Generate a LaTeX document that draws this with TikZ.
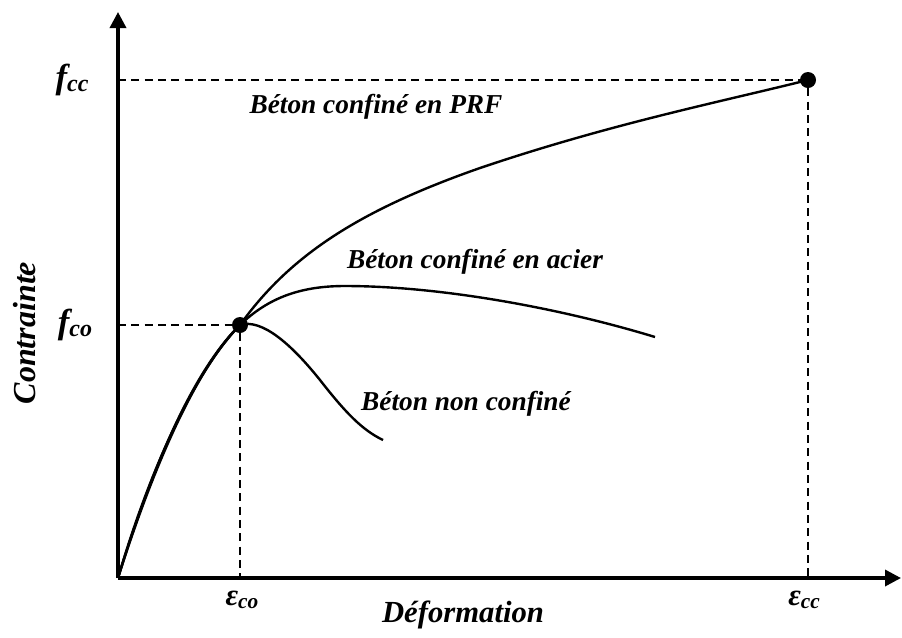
\documentclass[tikz,border=0pt]{standalone}
\usepackage{fontspec}
\setmainfont{Liberation Serif}
\usetikzlibrary{arrows.meta}
\begin{document}
\begin{tikzpicture}[x=0.75pt,y=-0.75pt,
  axis/.style={line width=2.6pt,-{Triangle[length=12pt,width=12pt]}},
  curve/.style={line width=1.8pt},
  guide/.style={line width=1.5pt,dash pattern=on 6pt off 4pt},
  dot/.style={circle,fill=black,inner sep=0pt,minimum size=12pt},
  lbl/.style={font=\fontsize{20.5}{24}\selectfont\bfseries\itshape},
  axlbl/.style={font=\fontsize{23}{27}\selectfont\bfseries\itshape},
  sym/.style={font=\bfseries\itshape}]
\useasboundingbox (0,0) rectangle (902,637);
\coordinate (O) at (118,578);
\coordinate (ytip) at (118,12);
\coordinate (xtip) at (901,578);
\coordinate (yco) at (118,325);
\coordinate (ycc) at (118,80);
\coordinate (xco) at (240,578);
\coordinate (xcc) at (808,578);
\node[dot] (P1) at (240,325) {};
\node[dot] (P2) at (808,80) {};
% guides
\draw[guide] (yco) -- (P1) -- (xco);
\draw[guide] (ycc) -- (P2) -- (xcc);
% curves
\draw[curve] (O) .. controls (152,470) and (196,368) .. (P1.center);
\draw[curve] (O) .. controls (149,472) and (194,372) .. (P1.center);
\draw[curve] (O) .. controls (151,471) and (192,372) .. (P1.center)
  .. controls (262,318) and (292,345) .. (320,380)
  .. controls (345,412) and (362,430) .. (383,440);
\draw[curve] (P1.center) .. controls (268,298) and (300,286) .. (345,286)
  .. controls (440,286) and (560,308) .. (655,337);
\draw[curve] (P1.center) .. controls (290,255) and (360,210) .. (480,168)
  .. controls (610,124) and (720,102) .. (P2.center);
% axes
\draw[axis] (O) -- (ytip);
\draw[axis] (O) -- (xtip);
% labels
\node[lbl] (prf) at (376,107) {Béton confiné en PRF};
\node[lbl] (acier) at (475,262) {Béton confiné en acier};
\node[lbl] (nonc) at (466,404) {Béton non confiné};
\node[axlbl] (defo) at (463,615) {Déformation};
\node[font=\fontsize{24}{28}\selectfont\bfseries\itshape,rotate=90] (contr) at (25,333) {Contrainte};
\node[sym] (fcc) at (72,80) {\fontsize{26}{30}\selectfont f\raisebox{-2pt}{\fontsize{18}{20}\selectfont cc}};
\node[sym] (fco) at (75,325) {\fontsize{26}{30}\selectfont f\raisebox{-2pt}{\fontsize{18}{20}\selectfont co}};
\node[sym] (eco) at (242,600) {\fontsize{23}{27}\selectfont ε\raisebox{-2pt}{\fontsize{16}{18}\selectfont co}};
\node[sym] (ecc) at (804,600) {\fontsize{23}{27}\selectfont ε\raisebox{-2pt}{\fontsize{16}{18}\selectfont cc}};
\end{tikzpicture}
\end{document}
